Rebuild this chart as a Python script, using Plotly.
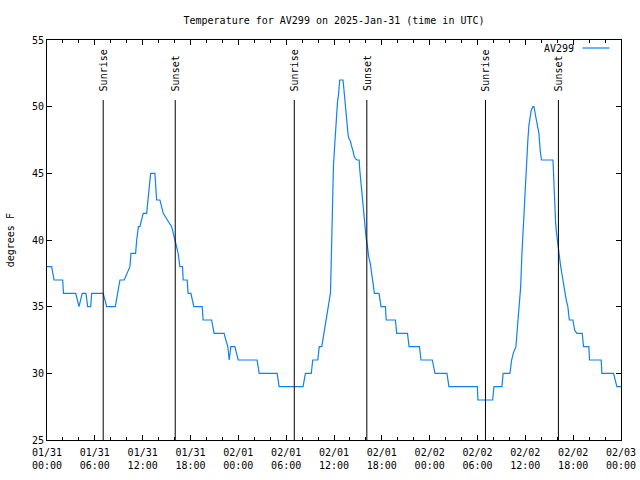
import pandas as pd
import plotly.graph_objects as go

start = "2025-01-31 00:00"
minutes_since_start = [0,35,53,118,124,216,241,265,293,306,
    329,336,423,449,514,530,549,581,602,624,
    632,667,675,688,699,711,724,750,760,771,
    780,812,825,850,862,875,906,938,963,987,
    1000,1020,1025,1055,1062,1083,1105,1168,1175,1239,
    1258,1333,1346,1361,1371,1384,1414,1439,1581,1597,
    1732,1747,1927,1945,1989,2000,2038,2049,2068,2083,
    2098,2113,2124,2133,2136,2141,2143,2151,2156,2164,
    2171,2179,2186,2194,2198,2203,2228,2236,2243,2251,
    2258,2266,2273,2284,2291,2299,2305,2311,2321,2334,
    2349,2354,2361,2369,2376,2384,2394,2401,2412,2421,
    2433,2444,2454,2464,2499,2514,2547,2553,2622,2632,
    2713,2725,2803,2815,2900,2920,3010,3025,3239,3243,
    3354,3364,3424,3433,3484,3497,3509,3529,3540,3552,
    3565,3574,3582,3589,3597,3604,3612,3619,3627,3634,
    3645,3657,3665,3672,3687,3702,3713,3722,3808,3813,
    3820,3828,3835,3843,3853,3863,3873,3883,3890,3901,
    3910,3920,3931,3958,3971,3988,4028,4038,4078,4083,
    4171,4176,4264,4275,4289,4320]
temperature_f = [38,38,37,37,36,36,35,36,36,35,
    35,36,36,35,35,36,37,37,37.5,38,
    39,39,40,41,41,41.5,42,42,43,44,
    45,45,43,43,42.5,42,41.5,41,40,39,
    38,38,37,37,36,36,35,35,34,34,
    33,33,32.5,32,31,32,32,31,31,30,
    30,29,29,30,30,31,31,32,32,33,
    34,35,35.5,36,37,39,41.3,43.9,45.6,46.9,
    48.1,49.5,50.3,50.9,51.5,52,52,51,50.3,49.4,
    48.7,47.9,47.6,47.4,47.1,46.9,46.6,46.3,46.1,46,
    46,45.25,44.5,43.5,42.6,41.75,40.75,40.25,39.5,38.75,
    38.25,37.25,36.75,36,36,35,35,34,34,33,
    33,32,32,31,31,30,30,29,29,28,
    28,29,29,30,30,31,31.5,32,33.5,35,
    36.5,38.9,40.5,42.1,44,45.5,46.5,47.5,48.6,49.25,
    49.75,50,50,49.6,48.75,48,46.6,46,46,44.55,
    42.6,41.25,40.5,39.75,39,38.25,37.6,37,36.25,35.9,
    35.4,35,34,34,33.25,33,33,32,32,31,
    31,30,30,29.5,29,29]
sunrise_times = ["2025-01-31 07:03", "2025-02-01 07:01", "2025-02-02 07:00"]
sunset_times = ["2025-01-31 16:05", "2025-02-01 16:07", "2025-02-02 16:09"]
series_name = "AV299"
title_text = "Temperature for AV299 on 2025-Jan-31 (time in UTC)"
x_start, x_end = "2025-01-31 00:00", "2025-02-03 00:00"

times = pd.Timestamp(start) + pd.to_timedelta(minutes_since_start, unit="min")

FONT = "DejaVu Sans Mono"
LINE_COLOR = "#0f80f5"

fig = go.Figure()
fig.add_trace(go.Scatter(x=times, y=temperature_f, mode="lines",
                         line=dict(color=LINE_COLOR, width=1.2),
                         name=series_name, showlegend=False, hoverinfo="skip"))

for label, tlist in (("Sunrise", sunrise_times), ("Sunset", sunset_times)):
    for t in tlist:
        fig.add_shape(type="line", xref="x", yref="paper", x0=t, x1=t,
                      y0=0, y1=0.85, line=dict(color="black", width=1))
        fig.add_annotation(x=t, xref="x", y=0.867, yref="paper", text=label,
                           textangle=-90, showarrow=False, yanchor="bottom",
                           xanchor="center", font=dict(family=FONT, size=10, color="black"))

# legend (gnuplot style: text then sample)
fig.add_annotation(x=0.922, xref="paper", y=0.98, yref="paper", text=series_name,
                   showarrow=False, xanchor="right", yanchor="middle",
                   font=dict(family=FONT, size=10, color="black"))
fig.add_shape(type="line", xref="paper", yref="paper", x0=0.933, x1=0.98,
              y0=0.98, y1=0.98, line=dict(color=LINE_COLOR, width=1.2))

fig.add_annotation(x=-0.064, xref="paper", y=0.5, yref="paper", text="degrees F",
                   textangle=-90, showarrow=False, xanchor="center", yanchor="middle",
                   font=dict(family=FONT, size=10, color="black"))

axis_common = dict(showline=True, linecolor="black", linewidth=1, mirror="ticks",
                   ticks="inside", tickcolor="black", showgrid=False, zeroline=False,
                   automargin=False,
                   tickfont=dict(family=FONT, size=10, color="black"))
fig.update_xaxes(range=[x_start, x_end], tickformat="%m/%d<br>%H:%M",
                 dtick=6 * 3600 * 1000, tick0=x_start, ticklen=5,
                 ticklabelstandoff=3,
                 minor=dict(dtick=2 * 3600 * 1000, tick0=x_start, ticks="inside",
                            ticklen=3, tickcolor="black", showgrid=False),
                 **axis_common)
fig.update_yaxes(range=[25, 55], dtick=5, tick0=25, ticklen=5, **axis_common)

fig.update_layout(
    width=640, height=480, autosize=False,
    margin=dict(l=47, r=19, t=40, b=40, autoexpand=False),
    plot_bgcolor="white", paper_bgcolor="white",
    title=dict(text=title_text, xref="paper", x=0.5, xanchor="center",
               yref="container", y=1 - 20 / 480, yanchor="middle",
               font=dict(family=FONT, size=10, color="black")),
    font=dict(family=FONT, size=10, color="black"),
)

fig.write_html("out.html", config={"displayModeBar": False},
               post_script="document.body.style.margin='0';document.body.style.overflow='hidden';")
